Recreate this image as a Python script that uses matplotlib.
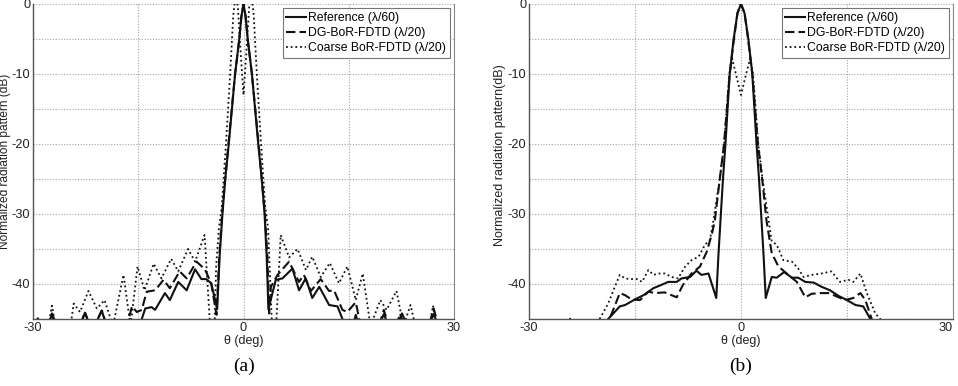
import matplotlib
matplotlib.use("Agg")
import matplotlib.pyplot as plt
import numpy as np

plt.rcParams['font.family'] = ['Liberation Sans', 'DejaVu Sans']

# ---------------- data: panel (a) ----------------
ref_a = [(-30, -46), (-29.3, -44.9), (-28.6, -47), (-27.9, -46), (-27.3, -44.3), (-26.7, -47),
         (-23.3, -46), (-22.6, -44.1), (-21.9, -46), (-21.0, -45.5), (-20.2, -43.8), (-19.5, -46),
         (-15.2, -47), (-14.5, -45), (-14.0, -43.5), (-13.1, -43.3), (-12.6, -43.7), (-11.2, -41.3),
         (-10.5, -42.3), (-9.3, -39.7), (-8.1, -40.9), (-6.9, -37.9), (-6.0, -39.3), (-5.3, -39.3),
         (-4.6, -39.9), (-3.75, -43.6), (-3.4, -36), (-3.0, -30), (-2.6, -25), (-2.1, -20),
         (-1.2, -10), (-0.6, -5), (-0.3, -1.8), (0, 0), (0.3, -1.8), (0.6, -5), (1.2, -10),
         (2.1, -20), (2.6, -25), (3.0, -30), (3.3, -36), (3.55, -43.6), (4.6, -39.4), (5.55, -39.2),
         (6.97, -37.8), (7.92, -40.9), (8.87, -39.2), (9.8, -42.0), (10.8, -40.4), (12.2, -43.0),
         (13.4, -43.2), (14.1, -45), (15.3, -47), (16.0, -44.4), (16.7, -47), (19.3, -46),
         (20.0, -44.3), (20.7, -46), (21.9, -46), (22.6, -44.2), (23.3, -46), (26.4, -46),
         (27.1, -44.3), (27.8, -46), (30, -47)]

dg_a = [(-30, -47), (-28.0, -46), (-27.3, -44.2), (-26.6, -46), (-23.3, -46), (-22.6, -44.0),
        (-21.9, -46), (-21.0, -45.5), (-20.2, -43.8), (-19.5, -46), (-16.6, -46), (-15.9, -43.2),
        (-15.2, -44.0), (-14.5, -43.7), (-13.8, -41.1), (-12.6, -40.9), (-11.4, -39.4),
        (-10.5, -40.6), (-9.1, -38.2), (-8.1, -39.2), (-6.7, -36.8), (-5.5, -37.9), (-4.6, -39.9),
        (-3.85, -44.4), (-3.45, -36), (-3.05, -30), (-2.6, -25), (-2.15, -20), (-1.2, -10),
        (-0.6, -5), (-0.3, -1.8), (0, 0), (0.3, -1.8), (0.6, -5), (1.2, -10), (2.15, -20),
        (2.6, -25), (3.05, -30), (3.4, -36), (3.65, -44.2), (3.9, -40.4), (4.85, -38.7),
        (6.5, -36.8), (7.9, -39.7), (8.6, -38.7), (9.6, -41.0), (11.0, -39.3), (12.2, -41.0),
        (12.9, -40.9), (14.1, -43.7), (14.8, -44.0), (16.0, -42.6), (16.7, -46), (19.3, -46),
        (20.0, -43.7), (20.7, -46), (21.8, -46), (22.3, -44.2), (22.9, -46), (26.4, -46),
        (27.1, -43.5), (27.8, -46), (30, -47)]

coarse_a = [(-30, -48), (-28.0, -47), (-27.3, -43.1), (-26.6, -47), (-24.8, -47), (-24.2, -42.8),
            (-23.3, -44.0), (-22.1, -41.0), (-20.9, -43.5), (-19.8, -42.3), (-18.6, -46),
            (-17.1, -38.7), (-16.1, -46), (-15.1, -37.5), (-14.1, -40.9), (-12.8, -37.1),
            (-11.7, -39.2), (-10.3, -36.4), (-9.3, -38.2), (-7.9, -35.0), (-6.9, -36.8),
            (-5.55, -33.0), (-4.7, -47), (-4.15, -47), (-3.9, -37.5), (-3.5, -32), (-3.1, -29),
            (-2.5, -20), (-1.9, -10), (-1.45, -1.5), (-1.1, 1.5), (-0.8, -0.5), (-0.4, -7),
            (0, -13), (0.4, -7), (0.8, -0.5), (1.1, 1.5), (1.45, -1.5), (1.9, -10), (2.5, -20),
            (3.1, -29), (3.5, -32), (3.7, -36.9), (4.1, -47), (4.6, -47), (5.3, -33.0),
            (6.5, -36.2), (7.7, -35.0), (8.9, -38.0), (9.8, -36.1), (11.0, -39.0), (12.3, -37.0),
            (13.6, -39.9), (14.8, -37.5), (16.0, -42.3), (17.0, -38.5), (18.1, -46), (19.5, -42.3),
            (20.4, -43.7), (21.8, -41.0), (22.8, -46), (23.8, -43), (24.5, -46), (26.4, -47),
            (27.0, -43.1), (27.6, -47), (30, -48)]

# ---------------- data: panel (b) ----------------
ref_b = [(-30, -47), (-19.3, -47), (-18.8, -45), (-17.15, -43.2), (-16.4, -43.0), (-15.0, -42.2),
         (-13.8, -41.6), (-12.4, -40.6), (-11.2, -40.1), (-10.3, -39.7), (-9.1, -39.7),
         (-8.4, -39.2), (-7.2, -39.0), (-6.3, -38.1), (-5.6, -38.7), (-4.6, -38.5), (-3.5, -42.0),
         (-3.2, -36), (-2.85, -30), (-2.55, -25), (-2.2, -20), (-1.6, -10), (-1.04, -5),
         (-0.5, -1.3), (0, 0), (0.5, -1.3), (1.04, -5), (1.6, -10), (2.2, -20), (2.55, -25),
         (2.85, -30), (3.2, -36), (3.5, -42.0), (4.35, -39.0), (5.05, -39.1), (6.1, -38.3),
         (7.2, -39.1), (8.1, -39.1), (9.1, -39.7), (10.3, -39.8), (11.4, -40.4), (12.6, -40.9),
         (13.8, -41.7), (15.0, -42.3), (16.2, -43.0), (17.3, -43.2), (18.3, -45), (18.8, -47),
         (30, -47)]

dg_b = [(-30, -47), (-19.0, -47), (-18.6, -45), (-17.15, -41.3), (-16.4, -41.6), (-15.5, -42.2),
        (-14.3, -42.3), (-13.1, -41.1), (-12.2, -41.3), (-10.8, -41.2), (-9.1, -41.9),
        (-8.2, -40.1), (-7.0, -38.5), (-5.8, -37.5), (-4.85, -35.4), (-4.1, -32.8), (-3.7, -30.9),
        (-3.0, -25), (-2.4, -20), (-1.6, -10), (-1.0, -5), (-0.5, -1.3), (0, 0), (0.5, -1.3),
        (1.0, -5), (1.6, -10), (2.4, -20), (3.0, -25), (3.6, -30.9), (4.35, -35.6), (5.3, -37.5),
        (6.7, -38.7), (7.9, -39.7), (9.1, -41.9), (10.0, -41.4), (11.2, -41.3), (12.4, -41.3),
        (13.6, -41.8), (14.7, -42.3), (15.9, -42.0), (16.9, -41.3), (17.6, -42.3), (18.5, -45),
        (19.0, -47), (30, -47)]

coarse_b = [(-30, -48), (-24.6, -48), (-24.2, -44.8), (-23.8, -48), (-20.5, -47), (-20.0, -45),
            (-18.8, -42.8), (-17.85, -40.4), (-17.15, -38.7), (-16.4, -39.2), (-15.7, -39.3),
            (-14.7, -39.3), (-14.0, -39.7), (-13.1, -38.0), (-12.4, -38.7), (-11.7, -38.5),
            (-10.8, -38.5), (-9.8, -39.0), (-8.9, -39.2), (-7.9, -37.5), (-7.0, -36.6),
            (-6.0, -36.1), (-5.1, -34.4), (-4.4, -33.7), (-3.9, -30.9), (-3.0, -25), (-2.4, -20),
            (-1.65, -10), (-1.25, -7.8), (-0.6, -10.5), (0, -13), (0.6, -10.5), (1.3, -7.8),
            (1.7, -10), (2.45, -20), (3.05, -25), (3.9, -30.9), (4.35, -33.9), (5.05, -34.4),
            (6.0, -36.6), (7.2, -36.8), (8.1, -37.8), (8.85, -39.0), (10.0, -38.7), (11.4, -38.5),
            (12.8, -38.2), (14.0, -39.7), (15.2, -39.4), (15.9, -39.7), (16.9, -38.5),
            (17.8, -41.3), (19.0, -44.2), (19.7, -45), (20.2, -47), (23.8, -48), (24.2, -44.8),
            (24.6, -48), (30, -48)]

labels = ["Reference (\u03bb/60)", "DG-BoR-FDTD (\u03bb/20)", "Coarse BoR-FDTD (\u03bb/20)"]
x_ticks = [-30, -15, 0, 15, 30]
x_ticklabels = ["-30", "", "0", "", "30"]
y_ticks = [0, -5, -10, -15, -20, -25, -30, -35, -40, -45]
y_ticklabels = ["0", "", "-10", "", "-20", "", "-30", "", "-40", ""]
ylabels = ["Normalized radiation pattern (dB)", "Normalized radiation pattern(dB)"]
captions = ["(a)", "(b)"]

W, H = 958, 386
fig = plt.figure(figsize=(W / 100, H / 100), dpi=100)

axes_px = [(33, 454), (529, 953)]
top_px, bot_px = 4, 319

styles = [dict(ls='-', lw=1.5), dict(ls=(0, (4.5, 2)), lw=1.5), dict(ls=(0, (1, 1.6)), lw=1.3)]
panels = [(ref_a, dg_a, coarse_a), (ref_b, dg_b, coarse_b)]

for i, (series, (l, r)) in enumerate(zip(panels, axes_px)):
    ax = fig.add_axes([l / W, 1 - bot_px / H, (r - l) / W, (bot_px - top_px) / H])
    for s, st, lab in zip(series, styles, labels):
        th, db = zip(*s)
        ax.plot(th, db, color='#111111', label=lab, **st)
    ax.set_xlim(-30, 30)
    ax.set_ylim(-45, 0)
    ax.set_xticks(x_ticks)
    ax.set_xticklabels(x_ticklabels)
    ax.set_yticks(y_ticks)
    ax.set_yticklabels(y_ticklabels)
    ax.grid(True, ls=(0, (1, 1.5)), color='#a5a5a5', lw=0.8)
    ax.tick_params(direction='in', length=0, labelsize=9.2, colors='#222222', pad=2)
    for sp in ['left', 'bottom']:
        ax.spines[sp].set_color('#555555')
        ax.spines[sp].set_linewidth(1.0)
    ax.spines['right'].set_color('#888888')
    ax.spines['right'].set_linewidth(0.8)
    ax.spines['top'].set_visible(False)
    if i == 1:
        ax.get_xticklabels()[-1].set_horizontalalignment('right')
        ax.get_xticklabels()[-1].set_x(29.6)
    ax.set_xlabel("\u03b8 (deg)", fontsize=9, labelpad=1, color='#222222')
    leg = ax.legend(loc='upper right', fontsize=8.8, handlelength=1.6, handletextpad=0.2,
                    borderpad=0.3, labelspacing=0.25, borderaxespad=0.35, fancybox=False,
                    framealpha=1.0, edgecolor='#777777')
    leg.get_frame().set_linewidth(0.8)
    cx = (l + r) / 2 / W
    fig.text(cx, 1 - 366 / H, captions[i], ha='center', va='center', fontsize=14,
             family=['Liberation Serif', 'DejaVu Serif'])
    if i == 0:
        fig.text(5 / W, 1 - 161 / H, ylabels[i], rotation=90, ha='center', va='center',
                 fontsize=8.6, color='#222222')
    else:
        fig.text(500 / W, 1 - 155 / H, ylabels[i], rotation=90, ha='center', va='center',
                 fontsize=9, color='#222222')

fig.savefig("out.png", dpi=100)
